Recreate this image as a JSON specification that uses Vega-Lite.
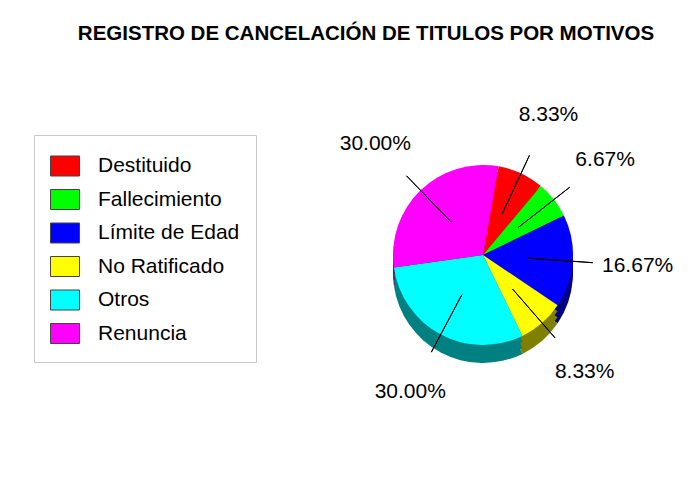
{
  "$schema": "https://vega.github.io/schema/vega-lite/v6.json",
  "width": 360,
  "height": 360,
  "autosize": {"type": "none"},
  "padding": {"left": 303, "top": 75, "right": 35, "bottom": 60},
  "background": "white",
  "config": {"view": {"stroke": null}, "font": "Liberation Sans"},
  "title": {
    "text": "REGISTRO DE CANCELACIÓN DE TITULOS POR MOTIVOS",
    "font": "Liberation Sans",
    "fontSize": 20.5,
    "fontWeight": "bold",
    "color": "black",
    "anchor": "middle",
    "frame": "group",
    "dx": -117,
    "offset": 15,
    "baseline": "alphabetic"
  },
  "data": {
    "values": [
      {"motivo": "Destituido", "pct": 0.0833, "orden": 1},
      {"motivo": "Fallecimiento", "pct": 0.0667, "orden": 2},
      {"motivo": "Límite de Edad", "pct": 0.1667, "orden": 3},
      {"motivo": "No Ratificado", "pct": 0.0833, "orden": 4},
      {"motivo": "Otros", "pct": 0.30, "orden": 5},
      {"motivo": "Renuncia", "pct": 0.30, "orden": 6}
    ]
  },
  "encoding": {
    "theta": {"field": "pct", "type": "quantitative", "stack": true, "scale": {"range": [0.1745, 6.4577]}},
    "order": {"field": "orden", "type": "quantitative"}
  },
  "layer": [
    {
      "mark": {"type": "arc", "outerRadius": 90, "yOffset": 18},
      "encoding": {"color": {"field": "motivo", "type": "nominal", "legend": null,
        "scale": {"domain": ["Destituido", "Fallecimiento", "Límite de Edad", "No Ratificado", "Otros", "Renuncia"],
                  "range": ["#800000", "#008000", "#000080", "#808000", "#008080", "#800080"]}}}
    },
    {
      "mark": {"type": "arc", "outerRadius": 90, "yOffset": 12},
      "encoding": {"color": {"field": "motivo", "type": "nominal", "legend": null,
        "scale": {"domain": ["Destituido", "Fallecimiento", "Límite de Edad", "No Ratificado", "Otros", "Renuncia"],
                  "range": ["#800000", "#008000", "#000080", "#808000", "#008080", "#800080"]}}}
    },
    {
      "mark": {"type": "arc", "outerRadius": 90, "yOffset": 6},
      "encoding": {"color": {"field": "motivo", "type": "nominal", "legend": null,
        "scale": {"domain": ["Destituido", "Fallecimiento", "Límite de Edad", "No Ratificado", "Otros", "Renuncia"],
                  "range": ["#800000", "#008000", "#000080", "#808000", "#008080", "#800080"]}}}
    },
    {
      "mark": {"type": "arc", "outerRadius": 90},
      "encoding": {"color": {"field": "motivo", "type": "nominal",
        "scale": {"domain": ["Destituido", "Fallecimiento", "Límite de Edad", "No Ratificado", "Otros", "Renuncia"],
                  "range": ["#ff0000", "#00ff00", "#0000ff", "#ffff00", "#00ffff", "#ff00ff"]},
        "legend": {
          "orient": "none", "legendX": -269, "legendY": 60, "title": null,
          "symbolType": "M-1,-0.69H1V0.69H-1Z", "symbolSize": 841,
          "symbolStrokeColor": "#444444", "symbolStrokeWidth": 1,
          "labelFont": "Liberation Sans", "labelFontSize": 21, "labelColor": "black",
          "labelOffset": 18, "labelLimit": 300, "rowPadding": 5.5, "padding": 16,
          "fillColor": "white", "strokeColor": "#c8c8c8"
        }}}
    },
    {
      "mark": {"type": "arc", "innerRadius": 45, "outerRadius": 110, "padAngle": 3, "fillOpacity": 0, "stroke": "black", "strokeWidth": 1},
      "encoding": {"detail": {"field": "motivo", "type": "nominal"}}
    },
    {
      "mark": {"type": "text", "radius": 155, "fontSize": 21, "font": "Liberation Sans", "color": "black"},
      "encoding": {
        "detail": {"field": "motivo", "type": "nominal"},
        "text": {"field": "pct", "type": "quantitative", "format": ".2%"}
      }
    }
  ],
  "resolve": {"scale": {"color": "independent"}}
}
